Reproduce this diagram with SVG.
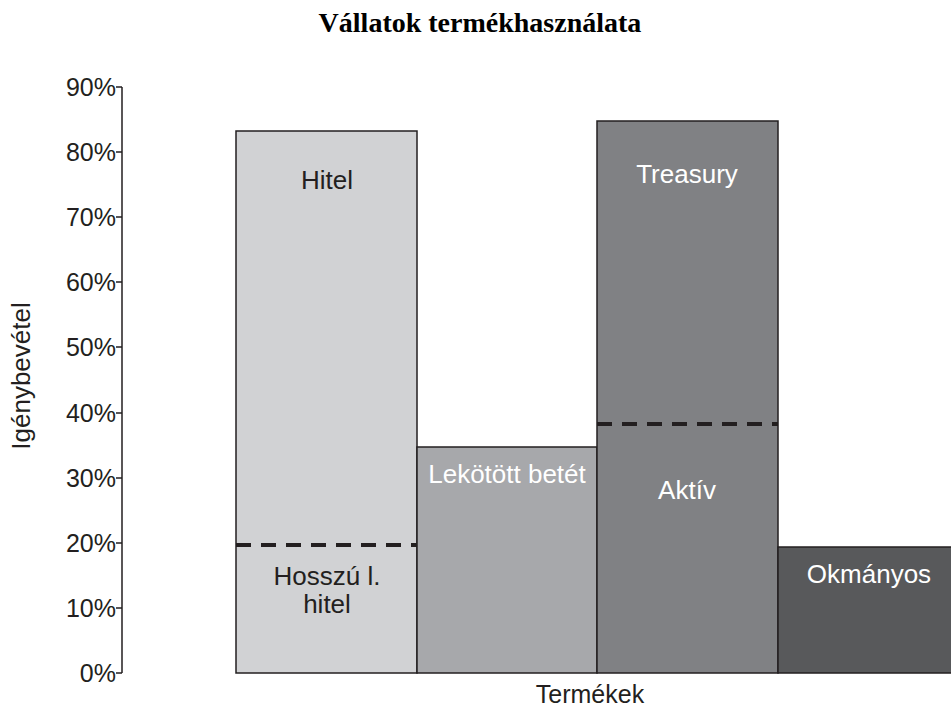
<svg xmlns="http://www.w3.org/2000/svg" width="951" height="710" viewBox="0 0 951 710">
<style>
.d{font-family:"Liberation Sans",Arial,sans-serif;font-size:26px;fill:#231f20;text-anchor:middle}
.w{font-family:"Liberation Sans",Arial,sans-serif;font-size:26px;fill:#ffffff;text-anchor:middle}
.tick{font-family:"Liberation Sans",Arial,sans-serif;font-size:25px;fill:#231f20;text-anchor:end}
.bar{stroke:#231f20;stroke-width:1.5}
.dash{stroke:#231f20;stroke-width:4;stroke-dasharray:15 10;fill:none}
.ax{stroke:#231f20;stroke-width:1.5;fill:none}
</style>
<rect width="951" height="710" fill="#fff"/>
<text x="480" y="32" text-anchor="middle" style="font-family:'Liberation Serif','Times New Roman',serif;font-size:28px;font-weight:bold;fill:#000">Vállatok termékhasználata</text>
<g id="axis">
<path class="ax" d="M122,87 V673 M116,87 H122 M116,152 H122 M116,217 H122 M116,282 H122 M116,347 H122 M116,413 H122 M116,478 H122 M116,543 H122 M116,608 H122 M116,673 H122"/>
<text class="tick" x="116" y="96">90%</text>
<text class="tick" x="116" y="161">80%</text>
<text class="tick" x="116" y="226">70%</text>
<text class="tick" x="116" y="291">60%</text>
<text class="tick" x="116" y="356">50%</text>
<text class="tick" x="116" y="422">40%</text>
<text class="tick" x="116" y="487">30%</text>
<text class="tick" x="116" y="552">20%</text>
<text class="tick" x="116" y="617">10%</text>
<text class="tick" x="116" y="682">0%</text>
<text class="d" transform="translate(30,376) rotate(-90)">Igénybevétel</text>
<text class="d" x="590" y="703" style="font-size:25px">Termékek</text>
</g>
<g id="bar-hitel">
<rect class="bar" x="236" y="131" width="181" height="542" fill="#d1d2d4"/>
<text class="d" x="327" y="189">Hitel</text>
<text class="d" x="327" y="585">Hosszú l.</text>
<text class="d" x="327" y="613">hitel</text>
</g>
<g id="bar-lekotott">
<rect class="bar" x="417" y="447" width="180" height="226" fill="#a7a8ab"/>
<text class="w" x="507" y="483">Lekötött betét</text>
</g>
<g id="bar-treasury">
<rect class="bar" x="597" y="121" width="181" height="552" fill="#808184"/>
<text class="w" x="687" y="183">Treasury</text>
<text class="w" x="687" y="499">Aktív</text>
</g>
<g id="bar-okmanyos">
<rect class="bar" x="778" y="547" width="180" height="126" fill="#58595b"/>
<text class="w" x="869" y="583">Okmányos</text>
</g>
<g id="dividers">
<line class="dash" x1="236" y1="545" x2="417" y2="545"/>
<line class="dash" x1="597" y1="424" x2="778" y2="424"/>
</g>
</svg>
